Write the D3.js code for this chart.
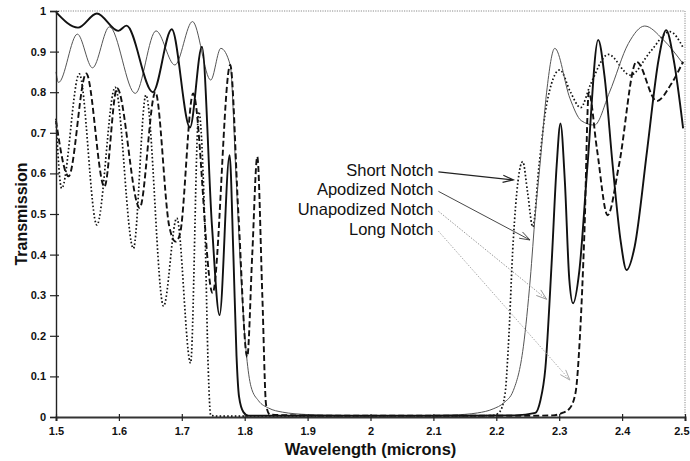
<!DOCTYPE html>
<html><head><meta charset="utf-8">
<script src="https://cdn.jsdelivr.net/npm/d3@7/dist/d3.min.js"></script>
<style>
html,body{margin:0;padding:0;background:#fff;}
svg{display:block;font-family:"Liberation Sans",Arial,Helvetica,sans-serif;}
</style></head><body>
<svg id="chart" width="690" height="461"></svg>
<script>
// ---------- data ----------
const xTicks = [1.5,1.6,1.7,1.8,1.9,2.0,2.1,2.2,2.3,2.4,2.5];
const yTicks = [0,0.1,0.2,0.3,0.4,0.5,0.6,0.7,0.8,0.9,1];
const seriesNames = ["Short Notch","Apodized Notch","Unapodized Notch","Long Notch"];

// Short Notch (dotted)
const shortWl = [1.500,1.509,1.537,1.565,1.594,1.623,1.643,1.671,1.692,1.714,1.727,1.737,1.742,1.746,1.760,1.900,2.050,2.150,2.195,2.205,2.214,2.219,2.227,2.242,2.250,2.258,2.268,2.280,2.301,2.318,2.334,2.350,2.378,2.413,2.445,2.476,2.497];
const shortT  = [0.735,0.563,0.845,0.473,0.812,0.415,0.793,0.273,0.49,0.133,0.752,0.45,0.12,0.004,0.002,0.002,0.002,0.002,0.004,0.012,0.058,0.17,0.436,0.629,0.55,0.468,0.62,0.77,0.855,0.80,0.762,0.82,0.893,0.842,0.90,0.949,0.91];

// Apodized Notch (thin grey)
const apodWl = [1.500,1.504,1.534,1.558,1.585,1.626,1.659,1.689,1.717,1.746,1.762,1.777,1.786,1.795,1.803,1.810,1.822,1.838,1.860,1.900,1.950,2.050,2.130,2.170,2.195,2.212,2.227,2.243,2.254,2.262,2.270,2.280,2.293,2.317,2.335,2.356,2.380,2.410,2.436,2.465,2.497];
const apodT  = [0.85,0.824,0.943,0.86,0.961,0.797,0.951,0.867,0.974,0.830,0.908,0.867,0.60,0.32,0.15,0.075,0.04,0.022,0.012,0.006,0.004,0.003,0.005,0.01,0.02,0.035,0.065,0.173,0.34,0.50,0.63,0.80,0.908,0.785,0.73,0.719,0.80,0.92,0.963,0.93,0.87];

// Unapodized Notch (thick solid)
const unapWl = [1.500,1.535,1.565,1.599,1.612,1.654,1.684,1.713,1.732,1.748,1.760,1.776,1.782,1.787,1.791,1.798,1.806,1.850,1.950,2.050,2.150,2.230,2.262,2.270,2.278,2.288,2.296,2.302,2.309,2.316,2.322,2.332,2.345,2.362,2.372,2.385,2.398,2.407,2.420,2.440,2.458,2.470,2.482,2.497];
const unapT  = [0.997,0.959,0.994,0.951,0.964,0.800,0.955,0.713,0.912,0.47,0.251,0.645,0.40,0.15,0.05,0.012,0.003,0.003,0.003,0.003,0.003,0.004,0.01,0.04,0.12,0.38,0.62,0.723,0.58,0.34,0.28,0.36,0.62,0.929,0.84,0.62,0.43,0.362,0.42,0.66,0.88,0.953,0.88,0.711];

// Long Notch (dashed)
const longWl = [1.500,1.520,1.548,1.577,1.597,1.633,1.658,1.680,1.690,1.697,1.718,1.749,1.777,1.790,1.804,1.812,1.820,1.828,1.834,1.840,1.880,1.950,2.050,2.150,2.250,2.290,2.305,2.316,2.326,2.333,2.340,2.347,2.360,2.377,2.395,2.423,2.455,2.478,2.497];
const longT  = [0.73,0.593,0.846,0.567,0.81,0.515,0.80,0.47,0.432,0.45,0.797,0.305,0.867,0.50,0.148,0.40,0.641,0.30,0.03,0.006,0.004,0.003,0.003,0.003,0.003,0.004,0.01,0.02,0.06,0.2,0.45,0.80,0.66,0.497,0.62,0.875,0.778,0.82,0.875];

// annotation label anchors and arrow targets (data coordinates)
const labelWl = 2.1;
const labelT = [0.594,0.546,0.497,0.448];
const arrowWl = [2.227,2.2536,2.280,2.317];
const arrowT  = [0.584,0.436,0.29,0.091];

// ---------- chart ----------
const svg = d3.select("#chart");
const x = d3.scaleLinear().domain([1.5,2.5]).range([56,685]);
const y = d3.scaleLinear().domain([0,1]).range([417,11]);
const fmt = d3.format(".1~f");

// dotted frame top/right
svg.append("path")
  .attr("d", `M${x(1.5)},${y(1)}H${x(2.5)}V${y(0)}`)
  .attr("fill","none").attr("stroke","#8a8a8a").attr("stroke-width",1)
  .attr("stroke-dasharray","1.2,1.2");

const series = [
  {wl: shortWl, t: shortT, stroke:"#111", width:1.7, dash:"1.6,2.2"},
  {wl: apodWl,  t: apodT,  stroke:"#555", width:1.0, dash:null},
  {wl: unapWl,  t: unapT,  stroke:"#111", width:1.9, dash:null},
  {wl: longWl,  t: longT,  stroke:"#111", width:1.9, dash:"6,3"}
];
const line = d3.line().x(d=>x(d[0])).y(d=>y(d[1])).curve(d3.curveMonotoneX);
series.forEach(s=>{
  const pts = s.wl.map((w,i)=>[w,s.t[i]]);
  const p = svg.append("path").attr("d", line(pts))
    .attr("fill","none").attr("stroke",s.stroke).attr("stroke-width",s.width)
    .attr("stroke-linejoin","round");
  if (s.dash) p.attr("stroke-dasharray", s.dash);
});

// y axis
const gy = svg.append("g").attr("transform",`translate(${x(1.5)},0)`)
  .call(d3.axisLeft(y).tickValues(yTicks).tickFormat(fmt).tickSize(6).tickPadding(4));
gy.select(".domain").attr("stroke","#222").attr("stroke-width",1.4);
gy.selectAll(".tick line").attr("x1",3).attr("x2",-6).attr("stroke","#222").attr("stroke-width",1.2);
gy.selectAll(".tick text").attr("x",-10).attr("font-size",11).attr("font-weight","bold")
  .attr("font-family","Liberation Sans, Arial, sans-serif").attr("fill","#111");

// x axis
const gx = svg.append("g").attr("transform",`translate(0,${y(0)})`)
  .call(d3.axisBottom(x).tickValues(xTicks).tickFormat(fmt).tickSize(4).tickPadding(6));
gx.select(".domain").attr("stroke","#333").attr("stroke-width",2);
gx.selectAll(".tick line").attr("y1",-3).attr("y2",4).attr("stroke","#222").attr("stroke-width",1.2);
gx.selectAll(".tick text").attr("y",10).attr("font-size",11).attr("font-weight","bold")
  .attr("font-family","Liberation Sans, Arial, sans-serif").attr("fill","#111");
gx.selectAll(".tick text").filter(d=>d===2.5).attr("text-anchor","end").attr("x",4);

// axis titles
svg.append("text").attr("x", x(2.0)).attr("y", 455).attr("text-anchor","middle")
  .attr("font-size",16.5).attr("font-weight","bold").attr("fill","#111")
  .text("Wavelength (microns)");
svg.append("text").attr("transform",`translate(26.5,${y(0.5)}) rotate(-90)`)
  .attr("text-anchor","middle").attr("font-size",16).attr("font-weight","bold").attr("fill","#111")
  .text("Transmission");

// annotations
const arrowStyle = [
  {stroke:"#222", width:1.2, dash:null},
  {stroke:"#333", width:0.9, dash:null},
  {stroke:"#999", width:1.0, dash:"1.5,1.5"},
  {stroke:"#aaa", width:1.0, dash:"1.5,1.5"}
];
seriesNames.forEach((name,i)=>{
  const lx = x(labelWl), ly = y(labelT[i]);
  svg.append("text").attr("x", lx).attr("y", ly).attr("text-anchor","end")
    .attr("font-size",16.5).attr("fill","#111").text(name);
  const x0 = lx + 5, y0 = ly - 4;
  const x1 = x(arrowWl[i]), y1 = y(arrowT[i]);
  const ang = Math.atan2(y1-y0, x1-x0);
  const L = 11, a = 0.33;
  const st = arrowStyle[i];
  const g = svg.append("g").attr("fill","none").attr("stroke",st.stroke).attr("stroke-width",st.width);
  const ln = g.append("path").attr("d",`M${x0},${y0}L${x1},${y1}`);
  if (st.dash) ln.attr("stroke-dasharray", st.dash);
  g.append("path").attr("d",
    `M${x1-L*Math.cos(ang-a)},${y1-L*Math.sin(ang-a)}L${x1},${y1}L${x1-L*Math.cos(ang+a)},${y1-L*Math.sin(ang+a)}`);
});
</script>
</body></html>
